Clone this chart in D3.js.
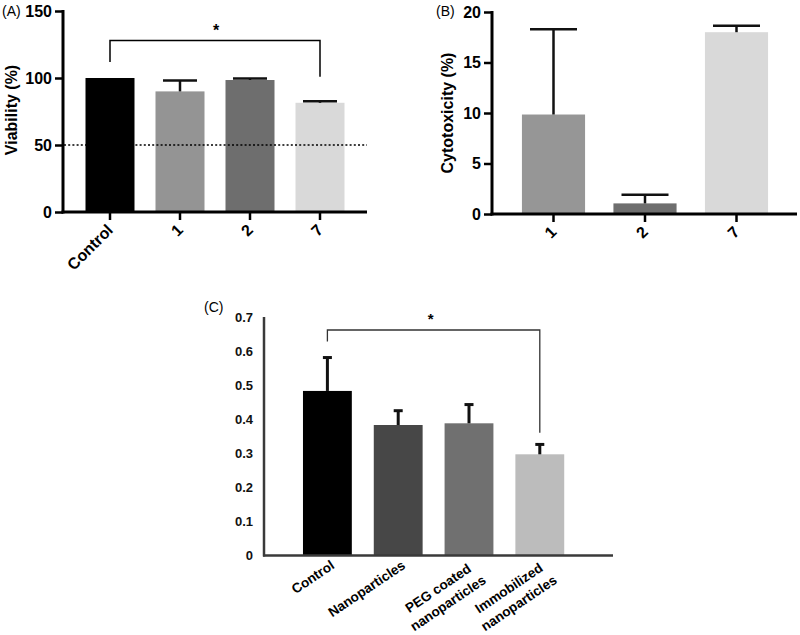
<!DOCTYPE html>
<html><head><meta charset="utf-8">
<script src="https://cdn.jsdelivr.net/npm/d3@7"></script>
<style>
body{margin:0;background:#fff;}
text{font-family:"Liberation Sans",Arial,Helvetica,sans-serif;}
</style></head>
<body><svg id="chart" width="800" height="635"></svg>
<script>
// Panel A: viability
const aCategories = ["Control", "1", "2", "7"];
const aValues = [100, 90, 98.5, 81.5];
const aErrors = [0, 8.2, 1.2, 1.2];
const aColors = ["#000000", "#949494", "#6e6e6e", "#d9d9d9"];
const aTicks = [0, 50, 100, 150];
const aThreshold = 50;

// Panel B: cytotoxicity
const bCategories = ["1", "2", "7"];
const bValues = [9.85, 1.05, 18.0];
const bErrors = [8.45, 0.85, 0.65];
const bColors = ["#969696", "#6e6e6e", "#d9d9d9"];
const bTicks = [0, 5, 10, 15, 20];

// Panel C
const cCategories = [["Control"], ["Nanoparticles"], ["PEG coated", "nanoparticles"], ["Immobilized", "nanoparticles"]];
const cValues = [0.483, 0.383, 0.388, 0.297];
const cErrors = [0.098, 0.042, 0.055, 0.029];
const cColors = ["#000000", "#474747", "#707070", "#bcbcbc"];
const cTicks = [0, 0.1, 0.2, 0.3, 0.4, 0.5, 0.6, 0.7];

const svg = d3.select("#chart");

function prismPanel(o) {
  const g = svg.append("g");
  const x = d3.scaleBand().domain(o.cats).range(o.xr).paddingInner(o.pi).paddingOuter(o.pi / 2);
  const y = d3.scaleLinear().domain(o.yd).range(o.yr);
  g.selectAll("rect.bar").data(o.vals).join("rect")
    .attr("x", (d, i) => x(o.cats[i])).attr("width", x.bandwidth())
    .attr("y", d => y(d)).attr("height", d => y(0) - y(d))
    .attr("fill", (d, i) => o.colors[i]);
  o.vals.forEach((v, i) => {
    if (!o.errs[i]) return;
    const cx = x(o.cats[i]) + x.bandwidth() / 2;
    g.append("line").attr("x1", cx).attr("x2", cx).attr("y1", y(v)).attr("y2", y(v + o.errs[i]))
      .attr("stroke", "#111").attr("stroke-width", 2.5);
    g.append("line").attr("x1", cx - o.cap).attr("x2", cx + o.cap).attr("y1", y(v + o.errs[i])).attr("y2", y(v + o.errs[i]))
      .attr("stroke", "#111").attr("stroke-width", 2.5);
  });
  const ya = g.append("g").attr("transform", `translate(${o.ax},0)`)
    .call(d3.axisLeft(y).tickValues(o.ticks).tickSize(8).tickPadding(3).tickFormat(d3.format("d")));
  ya.select(".domain").remove();
  ya.selectAll(".tick line").attr("stroke", "#000").attr("stroke-width", 2.5);
  ya.selectAll(".tick text").attr("font-size", 16).attr("font-weight", "bold").attr("fill", "#000");
  g.append("line").attr("x1", o.ax).attr("x2", o.ax).attr("y1", y(o.yd[1]) - 1).attr("y2", y(0) + 1.5)
    .attr("stroke", "#000").attr("stroke-width", 3);
  const xa = g.append("g").attr("transform", `translate(0,${y(0)})`)
    .call(d3.axisBottom(x).tickSize(8).tickFormat(""));
  xa.select(".domain").remove();
  xa.selectAll(".tick line").attr("stroke", "#000").attr("stroke-width", 2.5);
  g.append("line").attr("x1", o.ax - 1.5).attr("x2", o.axEnd).attr("y1", y(0)).attr("y2", y(0))
    .attr("stroke", "#000").attr("stroke-width", 3);
  o.cats.forEach(c => {
    const cx = x(c) + x.bandwidth() / 2;
    g.append("text").attr("transform", `translate(${cx + 4},${y(0) + 19}) rotate(-45)`)
      .attr("text-anchor", "end").attr("font-size", 16).attr("font-weight", "bold").text(c);
  });
  g.append("text").attr("transform", `translate(${o.lx},${o.ly}) rotate(-90)`)
    .attr("text-anchor", "middle").attr("font-size", 16).attr("font-weight", "bold").text(o.ylabel);
  g.append("text").attr("x", o.tag[1]).attr("y", 16).attr("font-size", 14).text(o.tag[0]);
  return {g, x, y};
}

// Panel A
const A = prismPanel({cats: aCategories, vals: aValues, errs: aErrors, colors: aColors, ticks: aTicks,
  xr: [75, 355], pi: 0.3, yd: [0, 150], yr: [212, 11], ax: 63, axEnd: 367, cap: 17,
  lx: 17, ly: 110, ylabel: "Viability (%)", tag: ["(A)", 2]});
A.g.append("line").attr("x1", 64).attr("x2", 367).attr("y1", A.y(aThreshold)).attr("y2", A.y(aThreshold))
  .attr("stroke", "#000").attr("stroke-width", 1.6).attr("stroke-dasharray", "2,2.2");
{
  const x1 = A.x("Control") + A.x.bandwidth() / 2, x2 = A.x("7") + A.x.bandwidth() / 2;
  const yb = 40.5;
  A.g.append("path").attr("d", `M${x1},${A.y(112)}V${yb}H${x2}V${A.y(101)}`)
    .attr("fill", "none").attr("stroke", "#000").attr("stroke-width", 1.5);
  A.g.append("text").attr("x", (x1 + x2) / 2 + 1).attr("y", 36).attr("text-anchor", "middle")
    .attr("font-size", 16).attr("font-weight", "bold").text("*");
}

// Panel B
prismPanel({cats: bCategories, vals: bValues, errs: bErrors, colors: bColors, ticks: bTicks,
  xr: [507.75, 782.25], pi: 0.31, yd: [0, 20], yr: [214, 12], ax: 492, axEnd: 797, cap: 23.5,
  lx: 453, ly: 113, ylabel: "Cytotoxicity (%)", tag: ["(B)", 436]});

// Panel C
{
  const g = svg.append("g");
  const names = cCategories.map(d => d.join(" "));
  const x = d3.scaleBand().domain(names).range([292, 575.2]).paddingInner(0.31).paddingOuter(0.155);
  const y = d3.scaleLinear().domain([0, 0.7]).range([555.5, 317]);
  g.selectAll("rect").data(cValues).join("rect")
    .attr("x", (d, i) => x(names[i])).attr("width", x.bandwidth())
    .attr("y", d => y(d)).attr("height", d => y(0) - y(d)).attr("fill", (d, i) => cColors[i]);
  cValues.forEach((v, i) => {
    const cx = x(names[i]) + x.bandwidth() / 2;
    const top = y(v + cErrors[i]);
    g.append("line").attr("x1", cx).attr("x2", cx).attr("y1", y(v)).attr("y2", top)
      .attr("stroke", "#111").attr("stroke-width", 3);
    g.append("line").attr("x1", cx - 4.5).attr("x2", cx + 4.5).attr("y1", top).attr("y2", top)
      .attr("stroke", "#111").attr("stroke-width", 3);
  });
  const ya = g.append("g").attr("transform", "translate(264,0)")
    .call(d3.axisLeft(y).tickValues(cTicks).tickSize(0).tickPadding(11).tickFormat(d => d === 0 ? "0" : d3.format(".1f")(d)));
  ya.select(".domain").remove();
  ya.selectAll(".tick text").attr("font-size", 13).attr("font-weight", "bold").attr("fill", "#111");
  g.append("line").attr("x1", 264).attr("x2", 264).attr("y1", y(0.7)).attr("y2", y(0) + 1)
    .attr("stroke", "#3a3a3a").attr("stroke-width", 2.5);
  g.append("line").attr("x1", 263).attr("x2", 613).attr("y1", y(0)).attr("y2", y(0))
    .attr("stroke", "#3a3a3a").attr("stroke-width", 2.5);
  cCategories.forEach((lines, i) => {
    const cx = x(names[i]) + x.bandwidth() / 2;
    const t = g.append("g").attr("transform", `translate(${cx + 8},${y(0) + 12}) rotate(-34)`);
    const texts = lines.map((l, k) => t.append("text").attr("y", k * 18).attr("text-anchor", "middle")
      .attr("font-size", 13.5).attr("font-weight", "bold").text(l));
    const w = d3.max(texts.map(s => s.node().getComputedTextLength()));
    texts.forEach(s => s.attr("x", -w / 2));
  });
  const x1 = x(names[0]) + x.bandwidth() / 2, x2 = x(names[3]) + x.bandwidth() / 2;
  g.append("path").attr("d", `M${x1},${y(0.628)}V${330}H${x2}V${y(0.36)}`)
    .attr("fill", "none").attr("stroke", "#333").attr("stroke-width", 1.3);
  g.append("text").attr("x", (x1 + x2) / 2 - 3).attr("y", 324).attr("text-anchor", "middle")
    .attr("font-size", 15).attr("font-weight", "bold").text("*");
  g.append("text").attr("x", 204).attr("y", 312).attr("font-size", 14).text("(C)");
}
</script></body></html>
